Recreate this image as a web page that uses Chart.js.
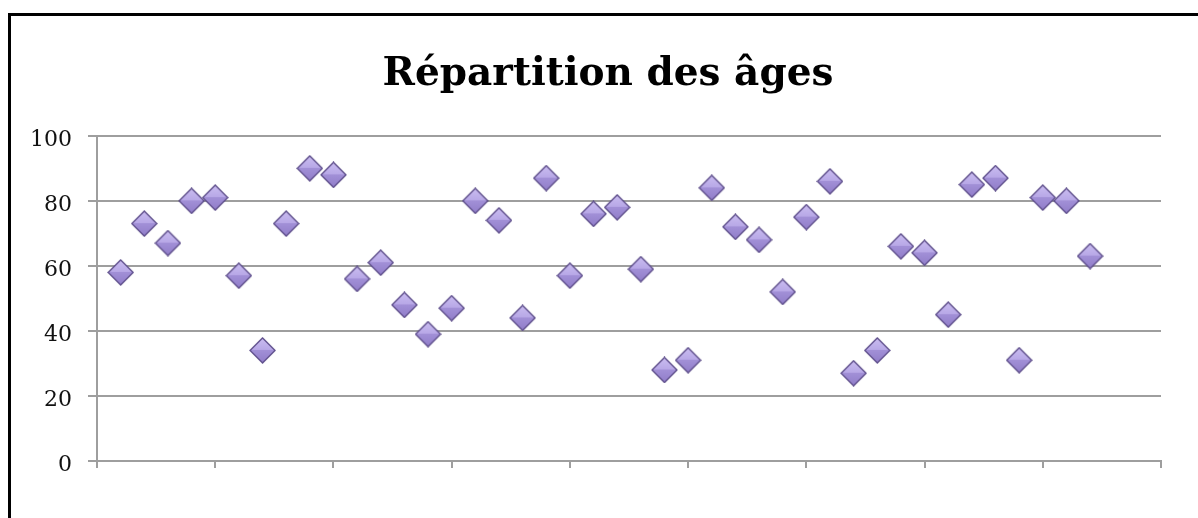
<!DOCTYPE html>
<html>
<head>
<meta charset="utf-8">
<script src="https://cdn.jsdelivr.net/npm/chart.js@4/dist/chart.umd.min.js"></script>
<style>
  html, body { margin: 0; padding: 0; background: #fff; overflow: hidden; }
  #wrap { position: relative; width: 1198px; height: 518px; }
  #frame {
    position: absolute; left: 8px; top: 13px; width: 1300px; height: 600px;
    border-top: 3px solid #000; border-left: 3px solid #000;
  }
  canvas { position: absolute; left: 0; top: 0; }
</style>
</head>
<body>
<div id="wrap">
  <div id="frame"></div>
  <canvas id="chart" width="1198" height="518"></canvas>
</div>
<script>
const title = 'Répartition des âges'
// one point per person, x = order, y = age
const ages = [58, 73, 67, 80, 81, 57, 34, 73, 90, 88, 56, 61, 48, 39, 47, 80, 74, 44, 87, 57,
  76, 78, 59, 28, 31, 84, 72, 68, 52, 75, 86, 27, 34, 66, 64, 45, 85, 87, 31, 81, 80, 63]
const xMax = 45
const yTicks = [0, 20, 40, 60, 80, 100]

const points = ages.map((a, i) => ({x: i + 1, y: a}))

// shaded diamond marker, like the office-style point
function diamond(size) {
  const c = document.createElement('canvas')
  c.width = size
  c.height = size
  const g = c.getContext('2d')
  const h = size / 2
  g.beginPath()
  g.moveTo(h, 1)
  g.lineTo(size - 1, h)
  g.lineTo(h, size - 1)
  g.lineTo(1, h)
  g.closePath()
  const grad = g.createLinearGradient(0, 0, 0, size)
  grad.addColorStop(0, '#ccbff2')
  grad.addColorStop(0.5, '#b7a7e6')
  grad.addColorStop(0.5, '#a290d7')
  grad.addColorStop(1, '#8f7cc8')
  g.fillStyle = grad
  g.fill()
  g.lineWidth = 1.3
  g.strokeStyle = '#5a4a88'
  g.stroke()
  return c
}

const gridColor = '#9e9e9e'

new Chart(document.getElementById('chart'), {
  type: 'scatter',
  data: {
    datasets: [{
      label: 'Âge',
      data: points,
      pointStyle: diamond(27),
      pointRadius: 13,
      pointHoverRadius: 13
    }]
  },
  options: {
    responsive: false,
    animation: false,
    events: [],
    layout: {padding: {left: 18, right: 0, top: 0, bottom: 0}},
    plugins: {
      legend: {display: false},
      tooltip: {enabled: false},
      title: {
        display: true,
        text: title,
        color: '#000',
        font: {family: 'DejaVu Serif', size: 39, weight: 'bold', lineHeight: 1.2},
        padding: {top: 51, bottom: 38}
      }
    },
    scales: {
      x: {
        type: 'linear',
        min: 0,
        max: xMax,
        ticks: {display: false, stepSize: 5},
        grid: {display: true, drawOnChartArea: false, drawTicks: true, tickLength: 7, color: gridColor, lineWidth: 2},
        border: {display: true, color: gridColor, width: 2},
        afterFit: (s) => { s.height = 57 }
      },
      y: {
        min: 0,
        max: 100,
        afterBuildTicks: (s) => { s.ticks = yTicks.map(v => ({value: v})) },
        ticks: {color: '#111', padding: 16, labelOffset: 4, font: {family: 'DejaVu Serif', size: 22}},
        grid: {color: gridColor, lineWidth: 2, tickLength: 9},
        border: {display: true, color: gridColor, width: 2},
        afterFit: (s) => { s.width = 79 }
      },
      yRight: {
        position: 'right',
        display: true,
        min: 0,
        max: 100,
        ticks: {display: false},
        grid: {display: false, drawTicks: false},
        border: {display: false},
        afterFit: (s) => { s.width = 37 }
      }
    }
  }
})
</script>
</body>
</html>
